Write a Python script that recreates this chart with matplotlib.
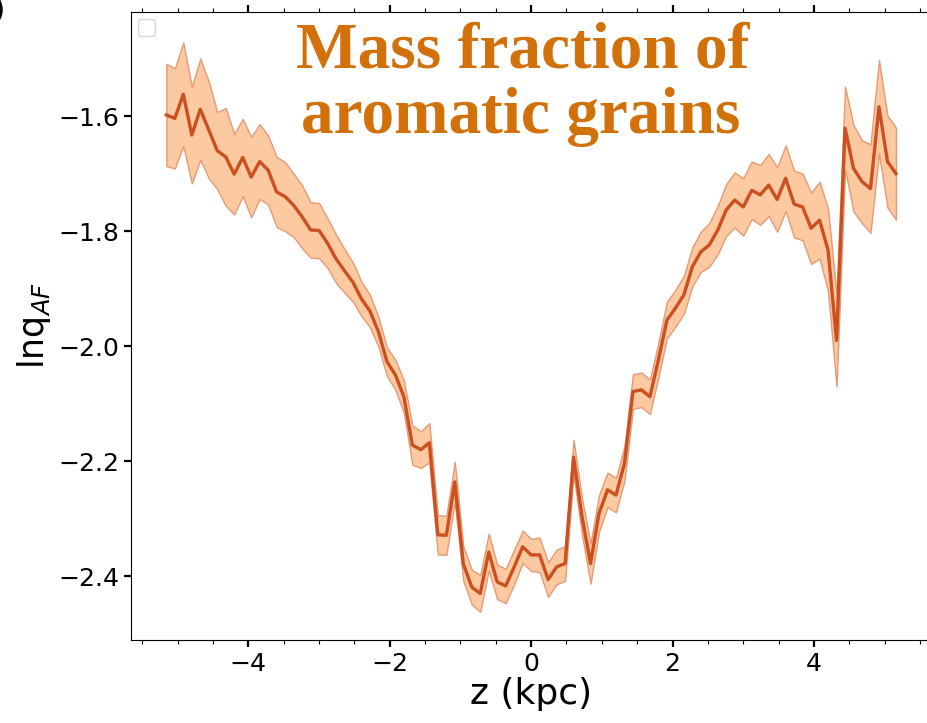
import numpy as np
import matplotlib
matplotlib.use("Agg")
import matplotlib.pyplot as plt
from matplotlib.ticker import MultipleLocator

# z bins (kpc), evenly spaced
z = np.round(np.arange(-5.16, 5.17, 0.12), 2)

lnq = [-1.598, -1.604, -1.562, -1.633, -1.588, -1.624, -1.660, -1.671, -1.701, -1.672,
       -1.706, -1.679, -1.694, -1.732, -1.740, -1.755, -1.775, -1.798, -1.799, -1.821,
       -1.848, -1.869, -1.889, -1.918, -1.939, -1.975, -2.027, -2.050, -2.088, -2.172,
       -2.180, -2.168, -2.328, -2.329, -2.236, -2.378, -2.419, -2.430, -2.358, -2.410,
       -2.417, -2.384, -2.349, -2.363, -2.363, -2.406, -2.384, -2.378, -2.193, -2.297,
       -2.378, -2.291, -2.250, -2.259, -2.204, -2.079, -2.076, -2.088, -2.024, -1.955,
       -1.934, -1.911, -1.862, -1.836, -1.824, -1.798, -1.763, -1.746, -1.758, -1.729,
       -1.737, -1.720, -1.745, -1.708, -1.753, -1.758, -1.795, -1.781, -1.833, -1.990,
       -1.621, -1.691, -1.714, -1.726, -1.584, -1.679, -1.700]

err = [0.089, 0.087, 0.090, 0.084, 0.088, 0.084, 0.067, 0.085, 0.070, 0.067,
       0.070, 0.065, 0.060, 0.061, 0.060, 0.055, 0.055, 0.048, 0.048, 0.043,
       0.042, 0.038, 0.034, 0.030, 0.028, 0.026, 0.025, 0.026, 0.028, 0.034,
       0.032, 0.034, 0.034, 0.034, 0.035, 0.030, 0.030, 0.032, 0.032, 0.030,
       0.030, 0.030, 0.028, 0.028, 0.030, 0.030, 0.030, 0.030, 0.030, 0.032,
       0.035, 0.032, 0.030, 0.030, 0.030, 0.030, 0.030, 0.030, 0.030, 0.032,
       0.032, 0.033, 0.034, 0.035, 0.038, 0.042, 0.045, 0.048, 0.050, 0.050,
       0.052, 0.054, 0.056, 0.057, 0.058, 0.058, 0.062, 0.067, 0.072, 0.080,
       0.072, 0.075, 0.072, 0.077, 0.081, 0.080, 0.080]

lnq = np.array(lnq)
err = np.array(err)

fig = plt.figure(figsize=(9.28, 7.23), dpi=100)
ax = fig.add_axes([131 / 928, 83 / 723, 801 / 928, 628 / 723])

ax.fill_between(z, lnq - err, lnq + err, facecolor="#fdc9a0", edgecolor="#e59a76", linewidth=1.0)
ax.plot(z, lnq, color="#cc4f1f", lw=2.4)

ax.set_xlim(-5.66, 5.67)
ax.set_ylim(-2.511, -1.419)
ax.set_xticks([-4, -2, 0, 2, 4])
ax.set_yticks([-2.4, -2.2, -2.0, -1.8, -1.6])
ax.xaxis.set_minor_locator(MultipleLocator(0.5))
ax.tick_params(axis="x", which="both", top=True, direction="out")
ax.tick_params(which="major", length=5, width=1.6, labelsize=18)
ax.tick_params(which="minor", length=3, width=0.8)
ax.spines["right"].set_visible(False)

ax.set_xlabel("z (kpc)", fontsize=26, labelpad=1)
ax.set_ylabel("lnq$_{AF}$", fontsize=25, labelpad=4)

ax.legend(handles=[], loc="upper left", borderpad=0.6)

tcol = "#d2700a"
ax.text(0.489, 0.911, "Mass fraction of", transform=ax.transAxes, ha="center", va="baseline",
        fontsize=47, fontweight="bold", family="Liberation Serif", color=tcol)
ax.text(0.486, 0.808, "aromatic grains", transform=ax.transAxes, ha="center", va="baseline",
        fontsize=47, fontweight="bold", family="Liberation Serif", color=tcol)

fig.text(6 / 928, 1.005, "(b)", ha="right", va="top", fontsize=20)

fig.savefig("out.png", dpi=100)
